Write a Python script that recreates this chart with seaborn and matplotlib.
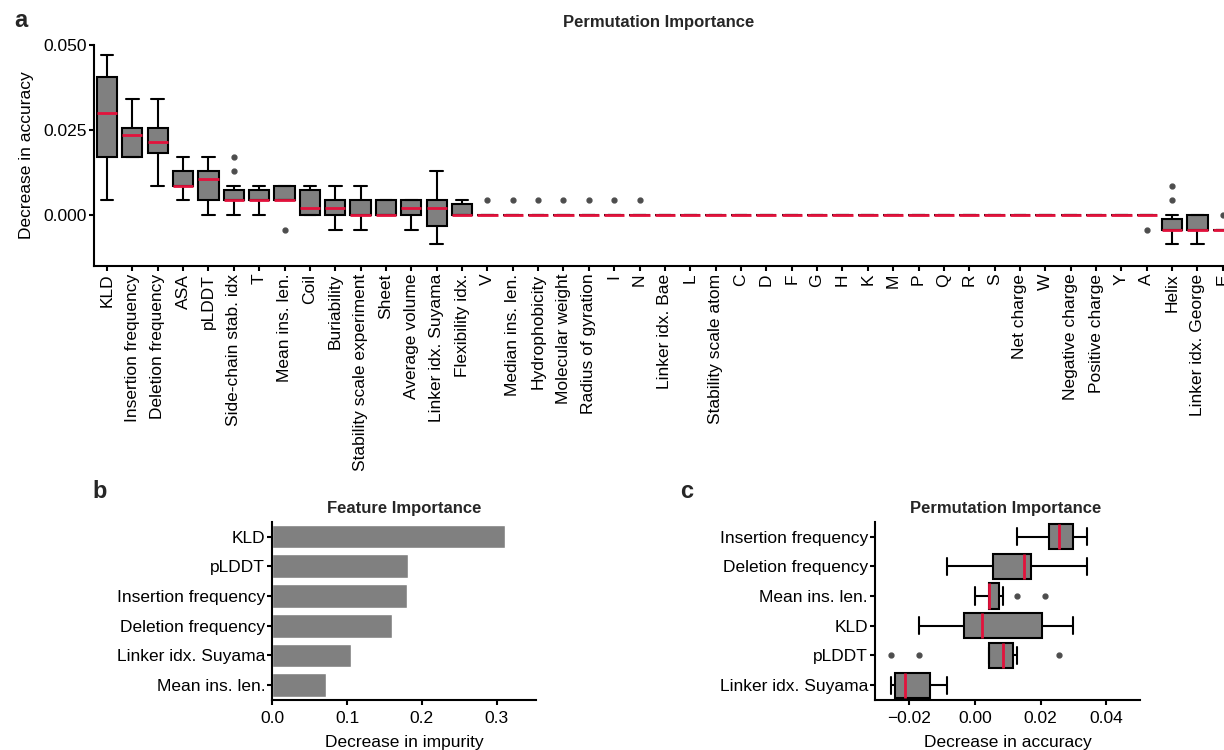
import matplotlib
matplotlib.use("Agg")
import matplotlib.pyplot as plt
import matplotlib.ticker as mticker
import pandas as pd
import seaborn as sns

sns.set_theme(style="ticks")
plt.rcParams["font.family"] = ["Liberation Sans", "DejaVu Sans"]

# ---- panel a: permutation importance of every feature (10 repeats each) ----
features_a = [
    "KLD", "Insertion frequency", "Deletion frequency", "ASA", "pLDDT",
    "Side-chain stab. idx", "T", "Mean ins. len.", "Coil", "Buriability",
    "Stability scale experiment", "Sheet", "Average volume", "Linker idx. Suyama",
    "Flexibility idx.", "V", "Median ins. len.", "Hydrophobicity", "Molecular weight",
    "Radius of gyration", "I", "N", "Linker idx. Bae", "L", "Stability scale atom",
    "C", "D", "F", "G", "H", "K", "M", "P", "Q", "R", "S", "Net charge", "W",
    "Negative charge", "Positive charge", "Y", "A", "Helix", "Linker idx. George", "E",
]
perm_a = [
    [0.0043, 0.0128, 0.0171, 0.0171, 0.0299, 0.0299, 0.0342, 0.0427, 0.0427, 0.0470],
    [0.0171, 0.0171, 0.0171, 0.0171, 0.0214, 0.0256, 0.0256, 0.0256, 0.0299, 0.0342],
    [0.0085, 0.0128, 0.0171, 0.0214, 0.0214, 0.0214, 0.0256, 0.0256, 0.0299, 0.0342],
    [0.0043, 0.0085, 0.0085, 0.0085, 0.0085, 0.0085, 0.0128, 0.0128, 0.0128, 0.0171],
    [0.0, 0.0043, 0.0043, 0.0043, 0.0085, 0.0128, 0.0128, 0.0128, 0.0171, 0.0171],
    [0.0, 0.0043, 0.0043, 0.0043, 0.0043, 0.0043, 0.0043, 0.0085, 0.0128, 0.0171],
    [0.0, 0.0043, 0.0043, 0.0043, 0.0043, 0.0043, 0.0043, 0.0085, 0.0085, 0.0085],
    [-0.0043, 0.0043, 0.0043, 0.0043, 0.0043, 0.0043, 0.0085, 0.0085, 0.0085, 0.0085],
    [0.0, 0.0, 0.0, 0.0, 0.0, 0.0043, 0.0043, 0.0085, 0.0085, 0.0085],
    [-0.0043, 0.0, 0.0, 0.0, 0.0, 0.0043, 0.0043, 0.0043, 0.0085, 0.0085],
    [-0.0043, 0.0, 0.0, 0.0, 0.0, 0.0, 0.0043, 0.0043, 0.0085, 0.0085],
    [0.0, 0.0, 0.0, 0.0, 0.0, 0.0, 0.0043, 0.0043, 0.0043, 0.0043],
    [-0.0043, 0.0, 0.0, 0.0, 0.0, 0.0043, 0.0043, 0.0043, 0.0043, 0.0043],
    [-0.0085, -0.0043, -0.0043, 0.0, 0.0, 0.0043, 0.0043, 0.0043, 0.0085, 0.0128],
    [0.0, 0.0, 0.0, 0.0, 0.0, 0.0, 0.0, 0.0043, 0.0043, 0.0043],
    [0.0, 0.0, 0.0, 0.0, 0.0, 0.0, 0.0, 0.0, 0.0, 0.0043],
    [0.0, 0.0, 0.0, 0.0, 0.0, 0.0, 0.0, 0.0, 0.0, 0.0043],
    [0.0, 0.0, 0.0, 0.0, 0.0, 0.0, 0.0, 0.0, 0.0, 0.0043],
    [0.0, 0.0, 0.0, 0.0, 0.0, 0.0, 0.0, 0.0, 0.0, 0.0043],
    [0.0, 0.0, 0.0, 0.0, 0.0, 0.0, 0.0, 0.0, 0.0, 0.0043],
    [0.0, 0.0, 0.0, 0.0, 0.0, 0.0, 0.0, 0.0, 0.0, 0.0043],
    [0.0, 0.0, 0.0, 0.0, 0.0, 0.0, 0.0, 0.0, 0.0, 0.0043],
    [0.0, 0.0, 0.0, 0.0, 0.0, 0.0, 0.0, 0.0, 0.0, 0.0],
    [0.0, 0.0, 0.0, 0.0, 0.0, 0.0, 0.0, 0.0, 0.0, 0.0],
    [0.0, 0.0, 0.0, 0.0, 0.0, 0.0, 0.0, 0.0, 0.0, 0.0],
    [0.0, 0.0, 0.0, 0.0, 0.0, 0.0, 0.0, 0.0, 0.0, 0.0],
    [0.0, 0.0, 0.0, 0.0, 0.0, 0.0, 0.0, 0.0, 0.0, 0.0],
    [0.0, 0.0, 0.0, 0.0, 0.0, 0.0, 0.0, 0.0, 0.0, 0.0],
    [0.0, 0.0, 0.0, 0.0, 0.0, 0.0, 0.0, 0.0, 0.0, 0.0],
    [0.0, 0.0, 0.0, 0.0, 0.0, 0.0, 0.0, 0.0, 0.0, 0.0],
    [0.0, 0.0, 0.0, 0.0, 0.0, 0.0, 0.0, 0.0, 0.0, 0.0],
    [0.0, 0.0, 0.0, 0.0, 0.0, 0.0, 0.0, 0.0, 0.0, 0.0],
    [0.0, 0.0, 0.0, 0.0, 0.0, 0.0, 0.0, 0.0, 0.0, 0.0],
    [0.0, 0.0, 0.0, 0.0, 0.0, 0.0, 0.0, 0.0, 0.0, 0.0],
    [0.0, 0.0, 0.0, 0.0, 0.0, 0.0, 0.0, 0.0, 0.0, 0.0],
    [0.0, 0.0, 0.0, 0.0, 0.0, 0.0, 0.0, 0.0, 0.0, 0.0],
    [0.0, 0.0, 0.0, 0.0, 0.0, 0.0, 0.0, 0.0, 0.0, 0.0],
    [0.0, 0.0, 0.0, 0.0, 0.0, 0.0, 0.0, 0.0, 0.0, 0.0],
    [0.0, 0.0, 0.0, 0.0, 0.0, 0.0, 0.0, 0.0, 0.0, 0.0],
    [0.0, 0.0, 0.0, 0.0, 0.0, 0.0, 0.0, 0.0, 0.0, 0.0],
    [0.0, 0.0, 0.0, 0.0, 0.0, 0.0, 0.0, 0.0, 0.0, 0.0],
    [-0.0043, 0.0, 0.0, 0.0, 0.0, 0.0, 0.0, 0.0, 0.0, 0.0],
    [-0.0085, -0.0043, -0.0043, -0.0043, -0.0043, -0.0043, -0.0043, 0.0, 0.0043, 0.0085],
    [-0.0085, -0.0043, -0.0043, -0.0043, -0.0043, -0.0043, 0.0, 0.0, 0.0, 0.0],
    [-0.0043, -0.0043, -0.0043, -0.0043, -0.0043, -0.0043, -0.0043, -0.0043, -0.0043, 0.0],
]

# ---- panel b: impurity-based feature importance ----
features_b = ["KLD", "pLDDT", "Insertion frequency", "Deletion frequency",
              "Linker idx. Suyama", "Mean ins. len."]
impurity_b = [0.311, 0.181, 0.180, 0.160, 0.105, 0.072]

# ---- panel c: permutation importance of the selected features ----
features_c = ["Insertion frequency", "Deletion frequency", "Mean ins. len.",
              "KLD", "pLDDT", "Linker idx. Suyama"]
perm_c = [
    [0.0128, 0.0214, 0.0214, 0.0256, 0.0256, 0.0256, 0.0299, 0.0299, 0.0342, 0.0342],
    [-0.0085, 0.0, 0.0043, 0.0085, 0.0128, 0.0171, 0.0171, 0.0171, 0.0214, 0.0342],
    [0.0, 0.0043, 0.0043, 0.0043, 0.0043, 0.0043, 0.0043, 0.0085, 0.0128, 0.0214],
    [-0.0171, -0.0085, -0.0043, 0.0, 0.0, 0.0043, 0.0171, 0.0214, 0.0256, 0.0299],
    [-0.0256, -0.0171, 0.0043, 0.0043, 0.0085, 0.0085, 0.0085, 0.0128, 0.0128, 0.0256],
    [-0.0256, -0.0256, -0.0256, -0.0214, -0.0214, -0.0214, -0.0171, -0.0128, -0.0128, -0.0085],
]

df_a = pd.DataFrame([(f, v) for f, vals in zip(features_a, perm_a) for v in vals],
                    columns=["feature", "score"])
df_c = pd.DataFrame([(f, v) for f, vals in zip(features_c, perm_c) for v in vals],
                    columns=["feature", "score"])

GRAY = "#808080"
RED = "#E3123C"
FS = 12.5
LW = 1.5

W, H = 1224, 750
fig = plt.figure(figsize=(W / 100, H / 100), dpi=100)


def axes_px(left, top, right, bottom):
    return fig.add_axes([left / W, 1 - bottom / H, (right - left) / W, (bottom - top) / H])


def style_axes(ax):
    sns.despine(ax=ax)
    for s in ("left", "bottom"):
        ax.spines[s].set_linewidth(LW)
        ax.spines[s].set_color("black")
    ax.tick_params(width=LW, length=3.6, color="black", labelsize=FS, pad=1.5,
                   labelcolor="black")


box_kw = dict(color=GRAY, saturation=1, linecolor="black", linewidth=LW, whis=1.5,
              fliersize=3.5,
              medianprops=dict(color=RED, linewidth=2.0),
              flierprops=dict(marker="o", markerfacecolor="#4D4D4D",
                              markeredgecolor="#4D4D4D"))

# panel a
ax_a = axes_px(94.3, 45, 1235.5, 266)
sns.boxplot(data=df_a, x="feature", y="score", order=features_a, width=0.8,
            capwidths=0.5, ax=ax_a, **box_kw)
style_axes(ax_a)
ax_a.set_xlim(-0.5, len(features_a) - 0.5)
ax_a.set_ylim(-0.015, 0.050)
ax_a.set_yticks([0.0, 0.025, 0.050])
ax_a.yaxis.set_major_formatter(mticker.FormatStrFormatter("%.3f"))
ax_a.tick_params(axis="x", rotation=90, pad=2)
ax_a.set_xlabel("")
ax_a.set_ylabel("Decrease in accuracy", fontsize=FS, color="black", labelpad=7)
fig.text(659 / W, 1 - 22 / H, "Permutation Importance", ha="center", va="center",
         fontsize=12, fontweight="bold")

# panel b
ax_b = axes_px(272.3, 521.7, 536, 700)
sns.barplot(x=impurity_b, y=features_b, order=features_b, orient="h", color=GRAY,
            saturation=1, width=0.8, ax=ax_b)
style_axes(ax_b)
ax_b.set_xlim(0, 0.3525)
ax_b.set_xticks([0.0, 0.1, 0.2, 0.3])
ax_b.xaxis.set_major_formatter(mticker.FormatStrFormatter("%.1f"))
ax_b.tick_params(axis="x", pad=4.5)
ax_b.set_xlabel("Decrease in impurity", fontsize=FS, color="black", labelpad=6)
ax_b.set_ylabel("")
fig.text(404 / W, 1 - 508 / H, "Feature Importance", ha="center", va="center",
         fontsize=12, fontweight="bold")

# panel c
ax_c = axes_px(875, 521.7, 1140, 700)
sns.boxplot(data=df_c, x="score", y="feature", order=features_c, orient="h",
            width=0.85, capwidths=0.58, ax=ax_c, **box_kw)
style_axes(ax_c)
ax_c.set_xlim(-0.0305, 0.0503)
ax_c.set_xticks([-0.02, 0.0, 0.02, 0.04])
ax_c.xaxis.set_major_formatter(
    mticker.FuncFormatter(lambda v, _: f"{v:.2f}".replace("-", "\u2212")))
ax_c.tick_params(axis="x", pad=4.5)
ax_c.set_xlabel("Decrease in accuracy", fontsize=FS, color="black", labelpad=6)
ax_c.set_ylabel("")
fig.text(1006 / W, 1 - 508 / H, "Permutation Importance", ha="center", va="center",
         fontsize=12, fontweight="bold")

# panel letters
for x, y, letter in [(14, 27, "a"), (92, 498, "b"), (680, 498, "c")]:
    fig.text(x / W, 1 - y / H, letter, ha="left", va="baseline",
             fontsize=17, fontweight="bold")

fig.savefig("out.png", dpi=100, facecolor="white")
